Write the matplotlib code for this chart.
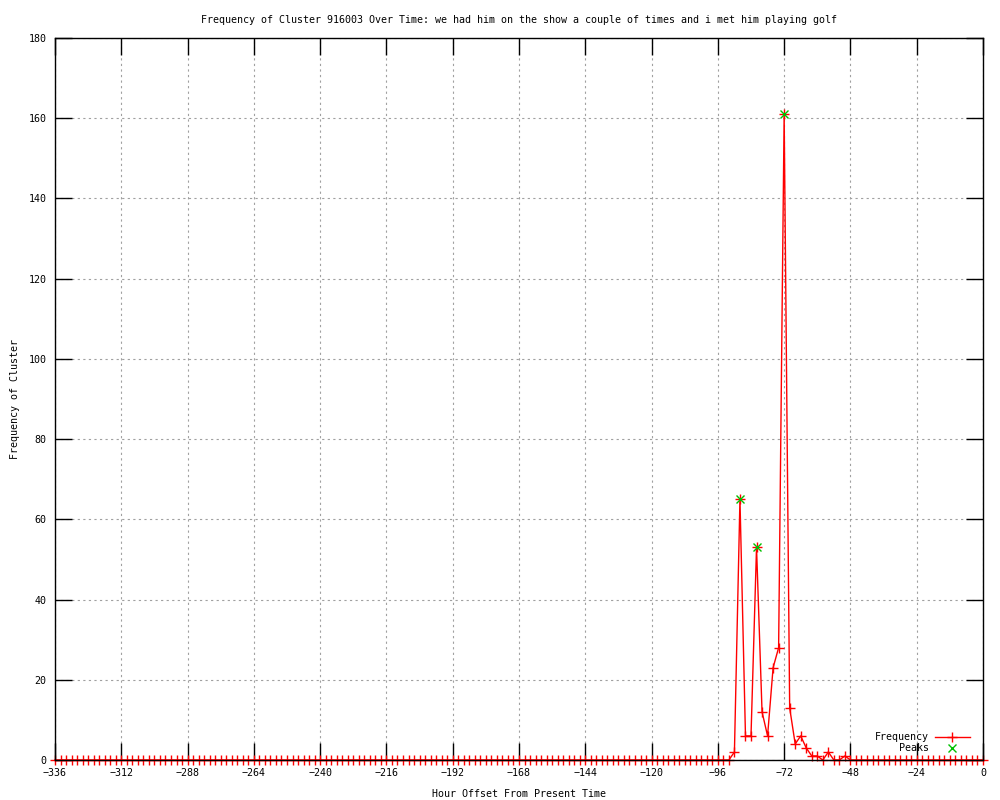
import matplotlib
matplotlib.use('Agg')
import matplotlib.pyplot as plt

plt.rcParams['font.family'] = ['DejaVu Sans Mono']
plt.rcParams['font.size'] = 7.2

# hour offsets, one sample every 2 hours
hours = list(range(-336, 1, 2))
freq = ([0] * 123 +
        [2, 65, 6, 6, 53, 12, 6, 23, 28, 161, 13, 4, 6, 3, 1, 1, 0, 2, 0, 0, 1] +
        [0] * 25)

peak_hours = [-88, -82, -72]
peak_vals = [65, 53, 161]

title = ("Frequency of Cluster 916003 Over Time: we had him on the show "
         "a couple of times and i met him playing golf")

fig = plt.figure(figsize=(10, 8), dpi=100)
ax = fig.add_axes([0.055, 0.05, 0.928, 0.9025])

ax.plot(hours, freq, color='red', linewidth=1, marker='+', markersize=7,
        markeredgewidth=1, label='Frequency', clip_on=False, zorder=2)
ax.plot(peak_hours, peak_vals, linestyle='none', color='#00c000', marker='x',
        markersize=6, markeredgewidth=1, label='Peaks', zorder=4)

ax.set_xlim(-336, 0)
ax.set_ylim(0, 180)
ax.set_xticks(range(-336, 1, 24))
ax.set_yticks(range(0, 181, 20))
ax.tick_params(direction='in', length=12, width=1, top=True, right=True, pad=6)
ax.grid(True, color='#a0a0a0', linestyle=(0, (2, 3)), linewidth=0.8)
for s in ax.spines.values():
    s.set_linewidth(1)
    s.set_zorder(3)

ax.set_title(title, fontsize=7.2, pad=11)
ax.set_xlabel("Hour Offset From Present Time", labelpad=8)
ax.set_ylabel("Frequency of Cluster", labelpad=6)

ax.legend(loc='lower right', frameon=False, markerfirst=False,
          handlelength=3.5, borderaxespad=0.3, labelspacing=0.1,
          handletextpad=0.6, bbox_to_anchor=(0.993, 0.0))

fig.savefig('out.png', dpi=100)
